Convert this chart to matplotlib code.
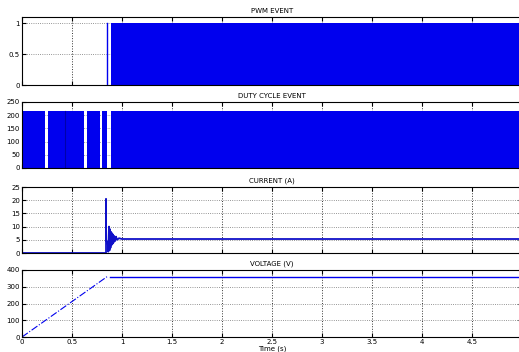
import numpy as np
import matplotlib.pyplot as plt

# titulos de cada panel (ilegibles en la referencia, aproximados)
titles = ['PWM EVENT', 'DUTY CYCLE EVENT', 'CURRENT (A)', 'VOLTAGE (V)']
xlabel = 'Time (s)'
xticks = [0, 0.5, 1, 1.5, 2, 2.5, 3, 3.5, 4, 4.5]
xticklabels = ['0', '0.5', '1', '1.5', '2', '2.5', '3', '3.5', '4', '4.5']

# panel 1: pulso aislado y conmutacion rapida
p1_pulse_t = [0.845, 0.845]
p1_pulse_v = [0, 1]
p1_on_start = [0.885]
p1_on_end = [5.0]
p1_level = 1.0
p1_yticks = [0, 0.5, 1]

# panel 2: tramos de conmutacion
p2_on_start = [0.0, 0.26, 0.65, 0.80, 0.89]
p2_on_end = [0.23, 0.62, 0.78, 0.85, 5.0]
p2_level = 215
p2_dark_t = [0.43]
p2_yticks = [0, 50, 100, 150, 200, 250]

# panel 3: corriente
p3_t = [0, 0.84, 0.84, 0.841, 0.862, 0.862, 0.87, 0.875, 0.88, 0.885, 0.89, 0.895,
        0.90, 0.905, 0.91, 0.915, 0.92, 0.93, 0.94, 0.95, 0.97, 1.0, 1.1, 5.0]
p3_v = [0, 0, 20.5, 5.0, 3.0, 0.5, 10.0, 1.0, 9.0, 2.0, 8.0, 3.0,
        7.5, 3.5, 7.0, 4.0, 6.5, 4.5, 6.2, 5.0, 5.6, 5.3, 5.3, 5.3]
p3_yticks = [0, 5, 10, 15, 20, 25]

# panel 4: rampa y valor final
p4_ramp_t = [0, 0.85]
p4_ramp_v = [0, 360]
p4_flat_t = [0.88, 5.0]
p4_flat_v = [360, 360]
p4_yticks = [0, 100, 200, 300, 400]

blue = '#0000ee'
W, H = 519, 352
fig = plt.figure(figsize=(W / 100, H / 100), dpi=100)

def mk(top, bottom):
    l = 22 / W
    return fig.add_axes([l, 1 - bottom / H, 1.006 - l, (bottom - top) / H])

ax1 = mk(17, 85)
ax2 = mk(102, 168)
ax3 = mk(187, 253)
ax4 = mk(270, 337)
axs = [ax1, ax2, ax3, ax4]

for a, tt in zip(axs, titles):
    a.set_xlim(0, 5)
    a.set_xticks(xticks)
    a.grid(True, axis='x', color='0.2', linestyle=':', linewidth=0.7)
    a.grid(True, axis='y', color='0.45', linestyle=':', linewidth=0.6)
    a.set_axisbelow(True)
    a.tick_params(direction='in', top=True, right=True, labelsize=5, length=3, width=0.8, pad=1.5)
    a.set_title(tt, fontsize=5, pad=3)
    for s in a.spines.values():
        s.set_linewidth(0.8)
    if a is not ax4:
        a.set_xticklabels([])
    else:
        a.set_xticklabels(xticklabels)

# panel 1
ax1.plot(p1_pulse_t, p1_pulse_v, color=blue, lw=1)
for s, e in zip(p1_on_start, p1_on_end):
    ax1.fill_between([s, e], 0, p1_level, color=blue, lw=0)
ax1.set_ylim(0, 1.1)
ax1.set_yticks(p1_yticks)
ax1.set_yticklabels(['0', '0.5', '1'])

# panel 2
for s, e in zip(p2_on_start, p2_on_end):
    ax2.fill_between([s, e], 0, p2_level, color=blue, lw=0)
for t in p2_dark_t:
    ax2.plot([t, t], [0, p2_level], color='#0000aa', lw=0.8)
ax2.set_ylim(0, 250)
ax2.set_yticks(p2_yticks)

# panel 3
ax3.plot(p3_t, p3_v, color='#1010c8', lw=1.3)
ax3.set_ylim(0, 25)
ax3.set_yticks(p3_yticks)

# panel 4
ax4.plot(p4_ramp_t, p4_ramp_v, color=blue, lw=0.8, linestyle='-.')
ax4.plot(p4_flat_t, p4_flat_v, color=blue, lw=1)
ax4.set_ylim(0, 400)
ax4.set_yticks(p4_yticks)
ax4.set_xlabel(xlabel, fontsize=5, labelpad=0)

fig.savefig('out.png', dpi=100)
